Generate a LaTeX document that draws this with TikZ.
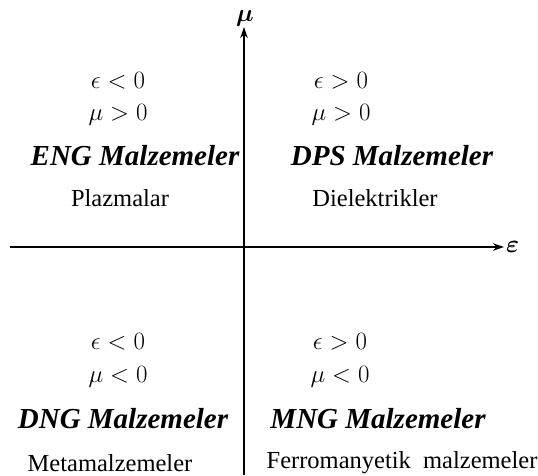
\documentclass[tikz,border=0pt]{standalone}
\usepackage{amsmath}
\usepackage{fontspec}
\setmainfont{Liberation Serif}
\usetikzlibrary{arrows.meta}
\begin{document}
\begin{tikzpicture}[x=1pt,y=-1pt,
  cond/.style={font=\fontsize{28}{30}\selectfont, anchor=base, inner sep=0pt},
  kind/.style={font=\fontsize{29}{32}\selectfont\bfseries\itshape, anchor=base, inner sep=0pt},
  ex/.style={font=\fontsize{24.5}{28}\selectfont, anchor=base, inner sep=0pt},
  axislabel/.style={font=\fontsize{30}{32}\selectfont, inner sep=0pt},
  axisline/.style={line width=1.3pt, -{Stealth[length=11pt,width=7.5pt]}}]
\useasboundingbox (0,0) rectangle (538,475);
% axes
\coordinate (xs) at (10,247);
\coordinate (xe) at (504,247);
\coordinate (ys) at (244,475);
\coordinate (ye) at (244,27);
\draw[axisline] (xs) -- (xe);
\draw[axisline] (ys) -- (ye);
\node[axislabel, anchor=west] (eps) at (506,247) {$\boldsymbol{\varepsilon}$};
\node[axislabel, anchor=base] (mu) at (245,21) {$\boldsymbol{\mu}$};
% top left
\node[cond] (tl1) at (118,88) {$\epsilon < 0$};
\node[cond] (tl2) at (118,120) {$\mu > 0$};
\node[kind] (tl3) at (135,165) {ENG Malzemeler};
\node[ex] (tl4) at (120,206) {Plazmalar};
% top right
\node[cond] (tr1) at (341,88) {$\epsilon > 0$};
\node[cond] (tr2) at (341,120) {$\mu > 0$};
\node[kind] (tr3) at (392,165) {DPS Malzemeler};
\node[ex] (tr4) at (375,206) {Dielektrikler};
% bottom left
\node[cond] (bl1) at (118,349) {$\epsilon < 0$};
\node[cond] (bl2) at (118,382) {$\mu < 0$};
\node[kind] (bl3) at (123,428) {DNG Malzemeler};
\node[ex] (bl4) at (110,471) {Metamalzemeler};
% bottom right
\node[cond] (br1) at (340,349) {$\epsilon > 0$};
\node[cond] (br2) at (340,382) {$\mu < 0$};
\node[kind] (br3) at (378,428) {MNG Malzemeler};
\node[ex] (br4) at (402,468) {Ferromanyetik\ \ malzemeler};
\end{tikzpicture}
\end{document}
